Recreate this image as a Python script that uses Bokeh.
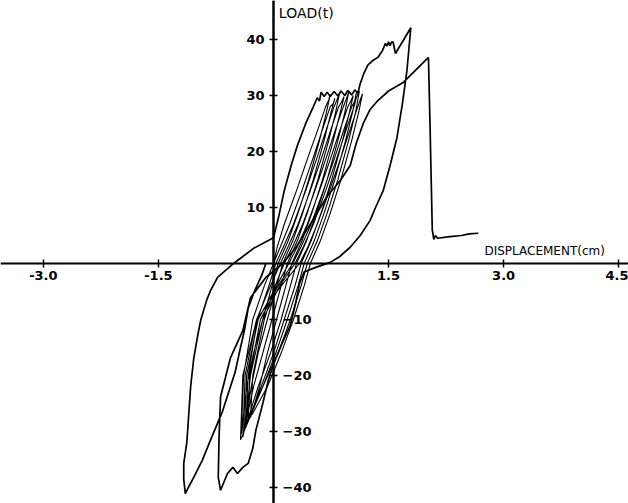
from bokeh.plotting import figure
from bokeh.models import Range1d, LinearAxis, FixedTicker, NumeralTickFormatter, Label
from bokeh.embed import file_html
from bokeh.resources import INLINE

# ---- data (displacement in cm, load in t) ----
x_ticks = [-3.0, -1.5, 1.5, 3.0, 4.5]
y_ticks_pos = [10, 20, 30, 40]
y_ticks_neg = [-10, -20, -30, -40]

# small repeated cycles (dense bundle)
small_x = [
    0.00, 0.05, 0.14, 0.30, 0.45, 0.58, 0.68, 0.72, 0.74,
    0.69, 0.60, 0.46, 0.32, 0.19, 0.06, -0.02, -0.14, -0.26, -0.35, -0.42,
    -0.39, -0.27, -0.12, 0.00, 0.09, 0.21, 0.37, 0.52, 0.64, 0.74, 0.78, 0.80,
    0.75, 0.66, 0.52, 0.38, 0.25, 0.12, 0.04, -0.08, -0.20, -0.29, -0.36,
    -0.33, -0.21, -0.06, 0.03, 0.13, 0.26, 0.42, 0.57, 0.69, 0.79, 0.83, 0.86,
    0.81, 0.72, 0.58, 0.44, 0.31, 0.18, 0.10, -0.02, -0.14, -0.26, -0.40,
    -0.37, -0.22, -0.04, 0.09, 0.19, 0.32, 0.48, 0.63, 0.75, 0.85, 0.89, 0.92,
    0.87, 0.78, 0.64, 0.50, 0.37, 0.24, 0.16, 0.04, -0.08, -0.18, -0.30,
    -0.27, -0.12, 0.02, 0.14, 0.25, 0.38, 0.54, 0.69, 0.81, 0.91, 0.95, 0.98,
    0.93, 0.84, 0.70, 0.56, 0.43, 0.30, 0.22, 0.10, -0.04, -0.20, -0.38,
    -0.35, -0.20, 0.04, 0.20, 0.31, 0.44, 0.60, 0.75, 0.87, 0.97, 1.01, 1.04,
    0.99, 0.90, 0.76, 0.62, 0.49, 0.36, 0.28, 0.14, 0.00, -0.16, -0.33,
    -0.31, -0.17, 0.06, 0.25, 0.36, 0.49, 0.65, 0.80, 0.92, 1.02, 1.06, 1.08,
    1.03, 0.94, 0.80, 0.66, 0.53, 0.40, 0.32, 0.18, 0.03, -0.14, -0.37,
    -0.30, -0.14, 0.08, 0.28, 0.39, 0.52, 0.68, 0.83, 0.95, 1.05, 1.08, 1.12,
    1.07, 0.98, 0.84, 0.70, 0.57, 0.44, 0.36, 0.22, 0.06, -0.14, -0.43,
    -0.40, -0.22, 0.10, 0.34, 0.45, 0.57, 0.73, 0.88, 1.00, 1.10, 1.13, 1.16,
    1.11, 1.02, 0.88, 0.74, 0.61, 0.48, 0.40, 0.26, 0.10, -0.08, -0.28,
]
small_y = [
    0, 3, 7, 13, 19, 24, 28, 29.2, 30.2,
    27, 22, 15, 9, 4, 0, -4, -10, -16, -22, -30.5,
    -20, -10, -4, 0, 3, 7, 13, 19, 24, 28, 28.6, 29.5,
    27, 22, 15, 9, 4, 0, -4, -10, -16, -22, -28.5,
    -20, -10, -4, 0, 3, 7, 13, 19, 24, 28, 29.3, 30.4,
    27, 22, 15, 9, 4, 0, -4, -10, -16, -22, -31.0,
    -20, -10, -4, 0, 3, 7, 13, 19, 24, 28, 28.9, 29.8,
    27, 22, 15, 9, 4, 0, -4, -10, -16, -22, -27.5,
    -20, -10, -4, 0, 3, 7, 13, 19, 24, 28, 29.4, 30.6,
    27, 22, 15, 9, 4, 0, -4, -10, -16, -22, -29.8,
    -20, -10, -4, 0, 3, 7, 13, 19, 24, 28, 29.1, 30.0,
    27, 22, 15, 9, 4, 0, -4, -10, -16, -22, -28.0,
    -20, -10, -4, 0, 3, 7, 13, 19, 24, 28, 29.0, 30.5,
    27, 22, 15, 9, 4, 0, -4, -10, -16, -22, -29.0,
    -20, -10, -4, 0, 3, 7, 13, 19, 24, 28, 29.6, 30.8,
    27, 22, 15, 9, 4, 0, -4, -10, -16, -22, -31.5,
    -20, -10, -4, 0, 3, 7, 13, 19, 24, 28, 29.2, 30.3,
    27, 22, 15, 9, 4, 0, -4, -10, -16, -22, -27.0,
]

# large cycles up to failure
big_x = [
    -0.10, -0.15, -0.25, -0.33, -0.38, -0.43, -0.50, -0.67, -0.82, -0.93, -1.04, -1.11, -1.15,
    -1.17, -1.17, -1.13, -1.11, -1.08, -1.04, -0.99, -0.95, -0.87, -0.82, -0.73, -0.52, -0.26, 0.00,
    0.07, 0.14, 0.23, 0.31, 0.42, 0.52, 0.57,
    0.60, 0.62, 0.66, 0.70, 0.74, 0.79, 0.84, 0.88, 0.93, 0.97, 1.02, 1.06, 1.10,
    1.13, 1.18, 1.23, 1.30, 1.36, 1.42, 1.46, 1.48, 1.50, 1.52, 1.54, 1.56, 1.59, 1.79,
    1.74, 1.68, 1.61, 1.52, 1.43, 1.33, 1.26, 1.13, 1.00, 0.86, 0.74, 0.55, 0.40, 0.34, 0.29,
    0.22, 0.12, 0.00, -0.07, -0.14, -0.23, -0.27, -0.33, -0.40, -0.47, -0.53, -0.60, -0.69,
    -0.72, -0.71, -0.69, -0.56, -0.40, -0.30, -0.10, 0.12, 0.30, 0.50, 0.70, 0.88, 1.00,
    1.08, 1.17, 1.26, 1.36, 1.50, 1.69, 1.85, 2.02,
    2.04, 2.07, 2.09, 2.11, 2.14, 2.30, 2.45, 2.55, 2.67,
]
big_y = [
    0.0, -2.0, -5.0, -8.0, -12.0, -15.0, -19.4, -26.6, -31.5, -35.2, -38.2, -40.0, -41.1,
    -38.5, -35.7, -32.0, -28.0, -22.0, -17.0, -13.0, -10.2, -6.5, -4.8, -2.5, 0.0, 2.7, 4.6,
    8.5, 13.0, 17.5, 21.0, 25.0, 28.0, 29.6,
    29.0, 30.6, 29.8, 30.6, 29.8, 30.7, 29.9, 30.8, 30.0, 30.9, 30.1, 31.0, 30.4,
    32.1, 34.0, 35.4, 36.3, 36.8, 38.0, 39.3, 38.8, 39.6, 38.9, 39.6, 39.5, 37.5, 42.1,
    34.5, 28.5, 22.5, 17.5, 13.0, 10.0, 7.7, 5.0, 2.9, 1.2, 0.2, -0.7, -1.5, -3.5, -7.0,
    -11.0, -14.0, -18.0, -21.0, -25.0, -29.8, -33.0, -35.7, -36.4, -37.5, -36.4, -37.5, -40.5,
    -38.2, -31.1, -23.8, -16.8, -12.0, -6.1, -2.5, 0.0, 3.0, 7.5, 12.0, 15.0, 17.5,
    21.5, 25.0, 27.5, 29.1, 30.8, 32.3, 34.5, 36.8,
    25.0, 6.0, 4.3, 5.0, 4.5, 4.8, 5.0, 5.3, 5.4,
]

FONT = "DejaVu Sans"

p = figure(width=628, height=503, output_backend="svg", toolbar_location=None,
           x_range=Range1d(-3.559, 4.628), y_range=Range1d(-42.86, 46.96),
           min_border=0, min_border_left=0, min_border_right=0,
           min_border_top=0, min_border_bottom=0,
           background_fill_color="white", border_fill_color="white")
p.outline_line_color = None
p.grid.visible = False

# x axis through origin
xa = p.xaxis[0]
xa.fixed_location = 0
xa.ticker = FixedTicker(ticks=x_ticks)
xa.formatter = NumeralTickFormatter(format="0.0")
xa.minor_tick_line_color = None
xa.axis_line_width = 2
xa.major_tick_in = 4
xa.major_tick_out = 4
xa.major_tick_line_width = 1.5
xa.major_label_text_font = FONT
xa.major_label_text_font_size = "13px"
xa.major_label_text_font_style = "bold"
xa.major_label_text_color = "black"
xa.major_label_standoff = 4

# y axis (positive labels on the left of the axis)
ya = p.yaxis[0]
ya.fixed_location = 0
ya.ticker = FixedTicker(ticks=y_ticks_pos)
ya.minor_tick_line_color = None
ya.axis_line_width = 2
ya.major_tick_in = 4
ya.major_tick_out = 4
ya.major_tick_line_width = 1.5
ya.major_label_text_font = FONT
ya.major_label_text_font_size = "13px"
ya.major_label_text_font_style = "bold"
ya.major_label_text_color = "black"
ya.major_label_standoff = 5

# negative labels on the right of the axis
ra = LinearAxis(fixed_location=0, ticker=FixedTicker(ticks=y_ticks_neg),
                minor_tick_line_color=None, axis_line_width=2,
                major_tick_in=4, major_tick_out=4, major_tick_line_width=1.5,
                major_label_text_font=FONT, major_label_text_font_size="13px",
                major_label_text_font_style="bold",
                major_label_text_color="black", major_label_standoff=5)
p.add_layout(ra, "right")

p.line(small_x, small_y, line_color="black", line_width=1.1)
p.line(big_x, big_y, line_color="black", line_width=1.7)

p.add_layout(Label(x=0.07, y=44.8, text="LOAD(t)", text_font=FONT,
                   text_font_size="14px", text_baseline="middle", text_color="black"))
p.add_layout(Label(x=2.75, y=2.3, text="DISPLACEMENT(cm)", text_font=FONT,
                   text_font_size="12px", text_baseline="middle", text_color="black"))

open("out.html", "w").write(file_html(p, INLINE))
